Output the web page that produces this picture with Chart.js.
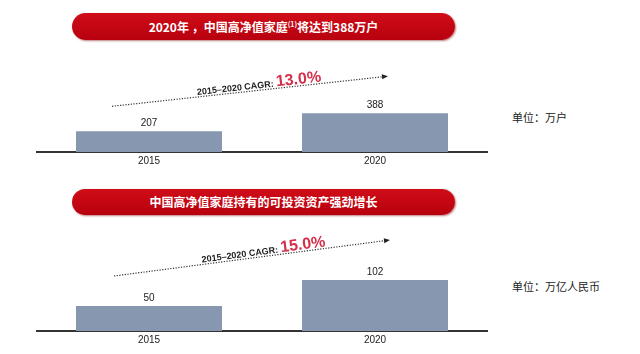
<!DOCTYPE html>
<html>
<head>
<meta charset="utf-8">
<script src="https://cdn.jsdelivr.net/npm/chart.js@4.4.1/dist/chart.umd.min.js"></script>
<style>
    body { margin: 0; width: 640px; height: 354px; background: #fff; position: relative; overflow: hidden;
           font-family: "Noto Sans CJK SC", "Liberation Sans", sans-serif; }
    .pill { position: absolute; left: 72px; width: 383px; height: 27px; border-radius: 14px;
            background: linear-gradient(#cf0d18, #b8000e); box-shadow: 1px 1px 2px rgba(120,0,0,0.5);
            color: #fff; font-weight: bold; font-size: 12px; line-height: 27px; text-align: center; }
    .pill sup { font-size: 7px; vertical-align: 5px; line-height: 0; }
    .unit { position: absolute; left: 512px; font-size: 11px; color: #222; line-height: 14px; }
    canvas { position: absolute; }
</style>
</head>
<body>
<div class="pill" style="top:13px;">2020年 ，中国高净值家庭<sup>(1)</sup>将达到388万户</div>
<div class="pill" style="top:189px;height:26px;line-height:26px;">中国高净值家庭持有的可投资资产强劲增长</div>
<div class="unit" style="top:110px;">单位：万户</div>
<div class="unit" style="top:279px;">单位：万亿人民币</div>

<div style="position:absolute;left:36px;top:52px;width:452px;height:128px;"><canvas id="households"></canvas></div>
<div style="position:absolute;left:36px;top:231px;width:452px;height:123px;"><canvas id="assets"></canvas></div>

<script>
// Data
const years = ['2015', '2020'];
const householdCounts = [207, 388];   // 万户
const investableAssets = [50, 102];   // 万亿人民币
const householdCagr = '13.0%';
const assetsCagr = '15.0%';

const barColor = '#8797b0';

// value labels above bars
const valueLabels = {
    id: 'valueLabels',
    afterDatasetsDraw(chart) {
        const ctx = chart.ctx;
        const meta = chart.getDatasetMeta(0);
        ctx.save();
        ctx.font = '10px "Liberation Sans", Arial, sans-serif';
        ctx.fillStyle = '#222';
        ctx.textAlign = 'center';
        ctx.textBaseline = 'middle';
        meta.data.forEach((bar, i) => {
            ctx.fillText(chart.data.datasets[0].data[i], bar.x, bar.y - 8);
        });
        ctx.restore();
    }
};

// dotted CAGR arrow with rotated text
const cagrArrow = {
    id: 'cagrArrow',
    afterDatasetsDraw(chart, args, opts) {
        const ctx = chart.ctx;
        const bars = chart.getDatasetMeta(0).data;
        const x1 = bars[0].x + opts.start[0], y1 = bars[0].y + opts.start[1];
        const x2 = bars[1].x + opts.end[0], y2 = bars[1].y + opts.end[1];
        const angle = Math.atan2(y2 - y1, x2 - x1);
        const len = Math.hypot(x2 - x1, y2 - y1);

        ctx.save();
        ctx.translate(x1, y1);
        ctx.rotate(angle);

        // dotted line
        ctx.strokeStyle = '#333';
        ctx.lineWidth = 1.2;
        ctx.setLineDash([1.2, 1.5]);
        ctx.beginPath();
        ctx.moveTo(0, 0);
        ctx.lineTo(len - 5, 0);
        ctx.stroke();
        ctx.setLineDash([]);
        // arrow head
        ctx.fillStyle = '#222';
        ctx.beginPath();
        ctx.moveTo(len, 0);
        ctx.lineTo(len - 6, -2.5);
        ctx.lineTo(len - 6, 2.5);
        ctx.closePath();
        ctx.fill();

        // texts
        const tx = len * opts.textAt;
        ctx.textBaseline = 'alphabetic';
        ctx.textAlign = 'left';
        ctx.font = 'bold 9px "Liberation Sans", Arial, sans-serif';
        ctx.fillStyle = '#222';
        const label = '2015–2020 CAGR: ';
        ctx.fillText(label, tx, -2);
        const w = ctx.measureText(label).width;
        ctx.font = 'bold 16px "Liberation Sans", Arial, sans-serif';
        ctx.fillStyle = '#d4304a';
        ctx.fillText(opts.text, tx + w, -2);
        ctx.restore();
    }
};

function makeChart(id, values, yMax, axisHeight, arrow) {
    return new Chart(document.getElementById(id), {
        type: 'bar',
        data: {
            labels: years,
            datasets: [{
                data: values,
                backgroundColor: barColor,
                barPercentage: 0.646,
                categoryPercentage: 1.0
            }]
        },
        options: {
            responsive: true,
            maintainAspectRatio: false,
            animation: false,
            layout: { padding: 0 },
            plugins: {
                legend: { display: false },
                tooltip: { enabled: false },
                cagrArrow: arrow
            },
            scales: {
                x: {
                    grid: { display: false, drawTicks: false },
                    border: { display: true, color: '#333', width: 2 },
                    ticks: {
                        padding: 3,
                        color: '#222',
                        font: { size: 10, family: '"Liberation Sans", Arial, sans-serif' }
                    },
                    afterFit(scale) { scale.height = axisHeight; }
                },
                y: { display: false, min: 0, max: yMax }
            }
        },
        plugins: [valueLabels, cagrArrow]
    });
}

makeChart('households', householdCounts, 1000, 28,
    { start: [-37, -25], end: [13, -37], textAt: 0.31, text: householdCagr });
makeChart('assets', investableAssets, 200, 23,
    { start: [-35, -30], end: [15, -40], textAt: 0.32, text: assetsCagr });
</script>
</body>
</html>
